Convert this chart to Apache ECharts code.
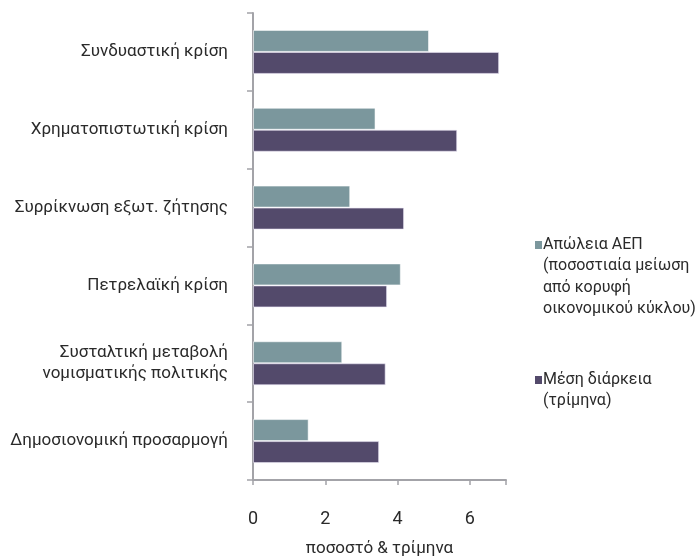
<!DOCTYPE html>
<html>
<head>
<meta charset="utf-8">
<script src="https://cdn.jsdelivr.net/npm/echarts@6/dist/echarts.min.js"></script>
<style>
  html, body { margin: 0; padding: 0; background: #fff; }
  #chart { width: 695px; height: 556px; }
</style>
</head>
<body>
<div id="chart"></div>
<script>
// Crisis types, listed top to bottom
const categories = [
  'Συνδυαστική κρίση',
  'Χρηματοπιστωτική κρίση',
  'Συρρίκνωση εξωτ. ζήτησης',
  'Πετρελαϊκή κρίση',
  'Συσταλτική μεταβολή\nνομισματικής πολιτικής',
  'Δημοσιονομική προσαρμογή'
];

// GDP loss (percent drop from cycle peak)
const gdpLoss = [4.87, 3.39, 2.69, 4.09, 2.47, 1.54];
// Average duration (quarters)
const avgDuration = [6.81, 5.65, 4.18, 3.71, 3.67, 3.49];

const xTicks = [0, 2, 4, 6];

const seriesNames = [
  'Απώλεια ΑΕΠ\n(ποσοστιαία μείωση\nαπό κορυφή\nοικονομικού κύκλου)',
  'Μέση διάρκεια\n(τρίμηνα)'
];
const colors = ['#7b979d', '#534a6b'];

const FONT = 'Roboto';
const TEXT = '#2a2a2a';
const LH = 21.5;
const axisColor = '#a3a3a8';

const chart = echarts.init(document.getElementById('chart'), null, { renderer: 'canvas' });

// Legend drawn as swatch + multi-line caption, swatch aligned with first line
const legendTops = [234, 369];
const legendGraphics = [];
seriesNames.forEach((name, i) => {
  legendGraphics.push({
    type: 'rect',
    left: 535,
    top: legendTops[i] + 7,
    shape: { width: 7, height: 8 },
    style: { fill: colors[i] },
    silent: true
  });
  legendGraphics.push({
    type: 'text',
    left: 543,
    top: legendTops[i],
    style: {
      text: name,
      font: '16px ' + FONT,
      fill: TEXT,
      lineHeight: LH
    },
    silent: true
  });
});

chart.setOption({
  animation: false,
  textStyle: { fontFamily: FONT, color: TEXT },
  grid: { left: 253, top: 13, right: 189, bottom: 76, containLabel: false, outerBoundsMode: 'none' },
  graphic: legendGraphics,
  xAxis: {
    type: 'value',
    min: 0,
    max: 7,
    interval: 2,
    name: 'ποσοστό & τρίμηνα',
    nameLocation: 'middle',
    nameGap: 60,
    nameTextStyle: { fontFamily: FONT, fontSize: 17, color: TEXT },
    splitLine: { show: false },
    axisLine: { show: true, lineStyle: { color: axisColor, width: 2 } },
    axisTick: { show: true, length: 5, lineStyle: { color: axisColor, width: 1.5 } },
    axisLabel: {
      fontFamily: FONT, fontSize: 18, color: TEXT, margin: 30,
      formatter: v => (xTicks.includes(v) ? String(v) : '')
    }
  },
  yAxis: {
    type: 'category',
    inverse: true,
    data: categories,
    axisLine: { show: true, lineStyle: { color: axisColor, width: 2 } },
    axisTick: { show: true, length: 6, lineStyle: { color: axisColor, width: 1.5 } },
    axisLabel: {
      fontFamily: FONT, fontSize: 17, color: TEXT, margin: 25, lineHeight: LH, align: 'right'
    }
  },
  series: [
    {
      name: seriesNames[0],
      type: 'bar',
      data: gdpLoss,
      barWidth: 22,
      barGap: '0%',
      itemStyle: { color: colors[0], borderColor: 'rgba(255,255,255,0.55)', borderWidth: 1 }
    },
    {
      name: seriesNames[1],
      type: 'bar',
      data: avgDuration,
      barWidth: 22,
      barGap: '0%',
      itemStyle: { color: colors[1], borderColor: 'rgba(235,230,245,0.6)', borderWidth: 1 }
    }
  ]
});
</script>
</body>
</html>
